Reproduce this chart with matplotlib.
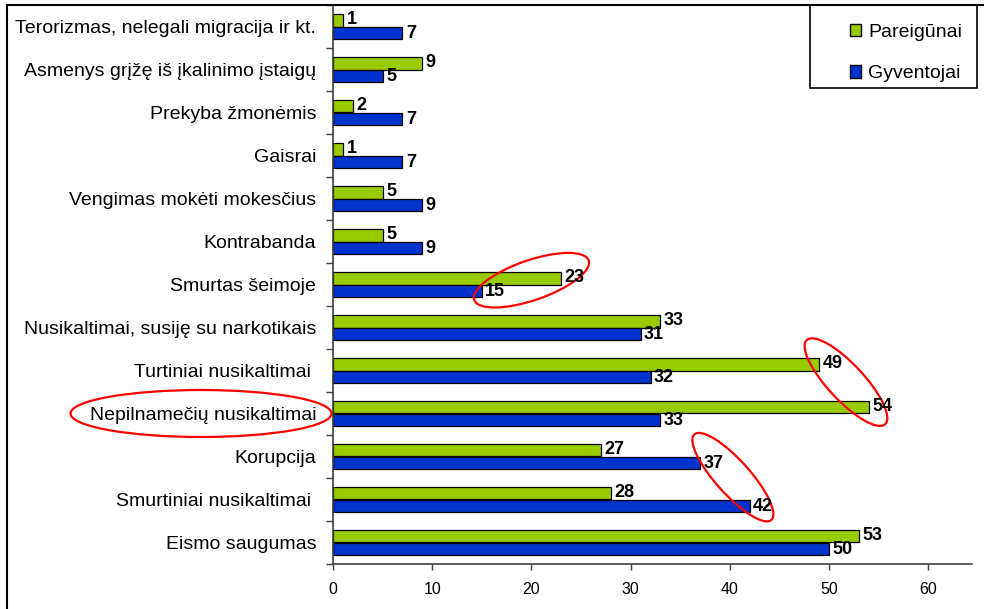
"""
Crime priorities: officers vs residents, horizontal grouped bars.
"""

import numpy as np
import matplotlib
matplotlib.use("Agg")
import matplotlib.pyplot as plt
import matplotlib.patches as mpatches
from matplotlib.transforms import ScaledTranslation

# ── Data ──────────────────────────────────────────────────────────────────────

CATEGORIES = [
    "Terorizmas, nelegali migracija ir kt.",
    "Asmenys grįžę iš įkalinimo įstaigų",
    "Prekyba žmonėmis",
    "Gaisrai",
    "Vengimas mokėti mokesčius",
    "Kontrabanda",
    "Smurtas šeimoje",
    "Nusikaltimai, susiję su narkotikais",
    "Turtiniai nusikaltimai ",
    "Nepilnamečių nusikaltimai",
    "Korupcija",
    "Smurtiniai nusikaltimai ",
    "Eismo saugumas",
]
PAREIGUNAI = [1, 9, 2, 1, 5, 5, 23, 33, 49, 54, 27, 28, 53]
GYVENTOJAI = [7, 5, 7, 7, 9, 9, 15, 31, 32, 33, 37, 42, 50]
SERIES     = ["Pareigūnai", "Gyventojai"]
X_TICKS    = [0, 10, 20, 30, 40, 50, 60]

# ── Style ─────────────────────────────────────────────────────────────────────

GREEN = "#99CC00"
BLUE  = "#0033CC"
FONT  = ["Liberation Sans", "DejaVu Sans"]

plt.rcParams["font.family"] = FONT

W, H = 984, 609
fig = plt.figure(figsize=(W / 100, H / 100), dpi=100)
ax  = fig.add_axes([333 / W, 1 - 564 / H, 639 / W, 559 / H])

n   = len(CATEGORIES)
pos = np.arange(n)
bh  = 0.28

ax.barh(pos - bh / 2, PAREIGUNAI, height=bh, color=GREEN,
        edgecolor="black", linewidth=0.9, label=SERIES[0])
ax.barh(pos + bh / 2, GYVENTOJAI, height=bh, color=BLUE,
        edgecolor="black", linewidth=0.9, label=SERIES[1])

for i in range(n):
    ax.annotate(str(PAREIGUNAI[i]), (PAREIGUNAI[i], pos[i] - bh / 2),
                xytext=(2.5, 0.5), textcoords="offset points",
                ha="left", va="center", fontsize=13, fontweight="bold")
    ax.annotate(str(GYVENTOJAI[i]), (GYVENTOJAI[i], pos[i] + bh / 2),
                xytext=(2.5, -0.5), textcoords="offset points",
                ha="left", va="center", fontsize=13, fontweight="bold")

ax.set_xlim(0, 64.4)
ax.set_ylim(n - 0.5, -0.5)

ax.set_xticks(X_TICKS)
ax.tick_params(axis="x", length=4, width=1, pad=9, labelsize=11.5,
               color="#404040")
ax.set_yticks(pos)
ax.set_yticklabels(CATEGORIES, fontsize=14)
ax.tick_params(axis="y", which="major", length=0, pad=12)
ax.set_yticks(np.arange(n + 1) - 0.5, minor=True)
ax.tick_params(axis="y", which="minor", length=5, width=1, color="#404040")

for side in ["top", "right"]:
    ax.spines[side].set_visible(False)
for side in ["left", "bottom"]:
    ax.spines[side].set_color("#404040")
    ax.spines[side].set_linewidth(1.2)

# ── Red highlight ellipses (pixel size, anchored on data) ─────────────────────

def ring(x, y, w, h, angle):
    e = mpatches.Ellipse((0, 0), w, h, angle=angle, fill=False,
                         edgecolor="red", linewidth=1.6, clip_on=False,
                         transform=ScaledTranslation(x, y, ax.transData))
    ax.add_patch(e)

ring(20.0, 5.9, 121, 40, 19)
ring(51.7, 8.27, 115, 36, -47)
ring(40.3, 10.48, 115, 34, -48)
ring(-13.3, 9.0, 261, 47, 0)

# ── Legend in its own box ─────────────────────────────────────────────────────

fig.add_artist(mpatches.Rectangle((810 / W, 1 - 88 / H), 167 / W, 83 / H,
                                  transform=fig.transFigure, fill=False,
                                  edgecolor="black", linewidth=1.2))
handles = [mpatches.Patch(facecolor=GREEN, edgecolor="black", label=SERIES[0]),
           mpatches.Patch(facecolor=BLUE, edgecolor="black", label=SERIES[1])]
fig.legend(handles=handles, loc="center", frameon=False,
           bbox_to_anchor=(906 / W, 1 - 53 / H), fontsize=14,
           handlelength=0.6, handleheight=0.6, handletextpad=0.35,
           labelspacing=1.25)

# outer chart border (only top and left fall inside the image)
fig.add_artist(mpatches.Rectangle((7 / W, -0.2), 1.2, 1.2 - 5 / H,
                                  transform=fig.transFigure, fill=False,
                                  edgecolor="black", linewidth=1.5,
                                  clip_on=False))

fig.savefig("out.png", dpi=100)
